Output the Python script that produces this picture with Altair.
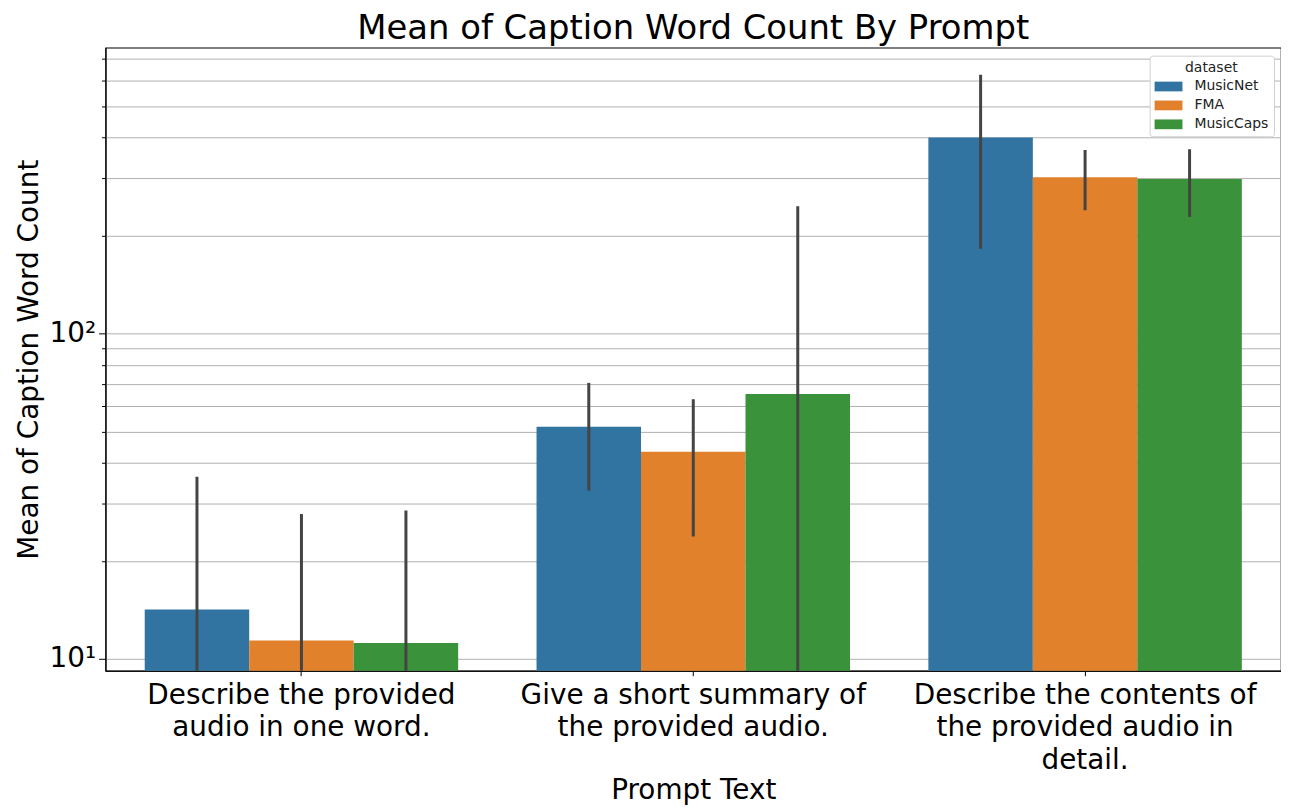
import altair as alt
import pandas as pd

prompts = [
    "Describe the provided audio in one word.",
    "Give a short summary of the provided audio.",
    "Describe the contents of the provided audio in detail.",
]
prompt_lines = [
    ["Describe the provided", "audio in one word."],
    ["Give a short summary of", "the provided audio."],
    ["Describe the contents of", "the provided audio in", "detail."],
]
datasets = ["MusicNet", "FMA", "MusicCaps"]
colors = ["#3274a1", "#e1812c", "#3a923a"]

musicnet_mean = [14.2, 51.7, 400]
musicnet_low = [1, 32.9, 182]
musicnet_high = [36.3, 70.5, 624]

fma_mean = [11.4, 43.3, 302]
fma_low = [1, 23.8, 239]
fma_high = [27.9, 62.8, 366]

musiccaps_mean = [11.2, 65.2, 298]
musiccaps_low = [1, 1, 228]
musiccaps_high = [28.6, 246, 368]

y_ticks = [10, 20, 30, 40, 50, 60, 70, 80, 90, 100, 200, 300, 400, 500, 600, 700]

rows = []
for ds, m, lo, hi in [
    ("MusicNet", musicnet_mean, musicnet_low, musicnet_high),
    ("FMA", fma_mean, fma_low, fma_high),
    ("MusicCaps", musiccaps_mean, musiccaps_low, musiccaps_high),
]:
    for p, mv, lv, hv in zip(prompts, m, lo, hi):
        rows.append({"prompt": p, "dataset": ds, "mean": mv, "low": lv, "high": hv})
df = pd.DataFrame(rows)

label_expr = " : ".join(
    [f"datum.value == '{p}' ? {l}" for p, l in zip(prompts, prompt_lines)]
) + " : datum.label"

yscale = alt.Scale(type="log", domain=[9.2, 755], nice=False, zero=False)
xscale = alt.Scale(paddingInner=0.2, paddingOuter=0.1)

legend_shape = "M-1,-0.7L3,-0.7L3,0.7L-1,0.7Z"

major_test = "datum.value == 10 || datum.value == 100"

bars = alt.Chart(df).mark_bar(clip=True).encode(
    x=alt.X("prompt:N", sort=prompts, scale=xscale,
            axis=alt.Axis(title="Prompt Text", labelAngle=0, labelExpr=label_expr,
                          labelFontSize=28, titleFontSize=28, labelColor="black",
                          titleColor="black", labelFont="DejaVu Sans", titleFont="DejaVu Sans",
                          titleFontWeight="normal", tickColor="black", domainColor="black",
                          tickSize=5, labelPadding=6, labelLineHeight=32.5,
                          labelBaseline="top", labelLimit=600,
                          titleY=128, titleBaseline="alphabetic")),
    xOffset=alt.XOffset("dataset:N", sort=datasets),
    y=alt.Y("mean:Q", scale=yscale,
            axis=alt.Axis(title="Mean of Caption Word Count", values=y_ticks,
                          labelExpr="datum.value == 10 ? '10¹' : datum.value == 100 ? '10²' : ''",
                          labelFontSize=28, titleFontSize=28, labelColor="black",
                          titleColor="black", labelFont="DejaVu Sans", titleFont="DejaVu Sans",
                          titleFontWeight="normal", grid=True, gridColor="#b0b0b0",
                          gridWidth=1, tickColor="black", domainColor="black",
                          tickSize={"condition": {"test": major_test, "value": 7}, "value": 4},
                          labelPadding=3, titleX=-76, titleBaseline="middle")),
    y2=alt.datum(1),
    color=alt.Color("dataset:N", sort=datasets,
                    scale=alt.Scale(domain=datasets, range=colors),
                    legend=alt.Legend(title="dataset", orient="none", legendX=1049, legendY=8,
                                      titleAnchor="middle", titleFontSize=14,
                                      titleFontWeight="normal", labelFontSize=14,
                                      titleFont="DejaVu Sans", labelFont="DejaVu Sans",
                                      titleColor="#222", labelColor="#222",
                                      symbolType=legend_shape, symbolSize=196,
                                      symbolStrokeWidth=0, symbolOpacity=1, padding=5,
                                      cornerRadius=3, strokeColor="#d0d0d0", fillColor="white",
                                      rowPadding=5, labelOffset=26, titlePadding=5)),
)

errs = alt.Chart(df).mark_rule(color="#444444", strokeWidth=3, clip=True).encode(
    x=alt.X("prompt:N", sort=prompts, scale=xscale),
    xOffset=alt.XOffset("dataset:N", sort=datasets),
    y=alt.Y("low:Q", scale=yscale),
    y2="high:Q",
)

chart = (bars + errs).properties(
    width=1181,
    height=626,
    padding={"left": 98, "top": 38, "right": 0, "bottom": 134},
    autosize=alt.AutoSizeParams(type="none"),
    title=alt.TitleParams("Mean of Caption Word Count By Prompt", fontSize=34,
                          font="DejaVu Sans", fontWeight="normal", color="black",
                          anchor="middle", offset=2),
).configure_view(stroke="black", strokeWidth=1.2)

chart.save("out.html", embed_options={"renderer": "svg", "actions": False})
